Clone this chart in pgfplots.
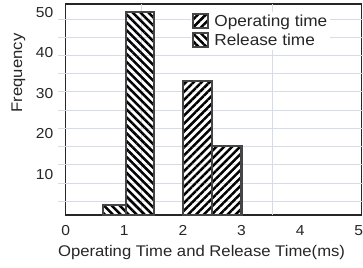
\documentclass[border=0pt]{standalone}
\usepackage{fontspec}
\setmainfont[FakeStretch=1.08]{Liberation Sans}
\usepackage{pgfplots}
\pgfplotsset{compat=1.18}
\usetikzlibrary{patterns.meta}
\definecolor{gridc}{HTML}{D5DCE6}
\definecolor{edge}{HTML}{454545}
\pgfplotsset{
  mybar/.style={ybar interval, draw=edge, line width=2.2bp,
    legend image code/.code={\draw[##1, draw=edge, line width=2bp] (0bp,-7bp) rectangle (15bp,7bp);}},
}
\begin{document}
\begin{tikzpicture}
\useasboundingbox (-65.7bp,-53bp) rectangle (297.3bp,215bp);
\begin{axis}[
  at={(0,0)}, anchor=south west,
  width=296bp, height=211bp, scale only axis,
  xmin=0, xmax=5.05, ymin=0, ymax=52,
  axis line style={draw=black!85, line width=1.1bp},
  xtick={0,1,2,3,4,5}, ytick={10,20,30,40,50},
  major tick length=0,
  /pgf/number format/assume math mode=true,
  tick label style={font=\fontsize{14.5}{17}\selectfont, text=black!85},
  x tick label style={yshift=-7bp},
  y tick label style={xshift=-9bp},
  extra y ticks={3.4,7.9,12.4,16.9,21.4,25.9,30.4,34.9,39.3,43.8,48.3},
  extra y tick labels={},
  extra y tick style={grid=major, major grid style={gridc, line width=0.8bp},
     tick style={gridc, line width=0.8bp}, major tick length=8bp, tick align=outside},
  extra x ticks={1.3,3.53},
  extra x tick labels={},
  extra x tick style={grid=major, major grid style={gridc, line width=0.8bp}, major tick length=0},
  xlabel={Operating Time and Release Time(ms)},
  ylabel={Frequency},
  label style={font=\fontsize{15.5}{18}\selectfont, text=black!85},
  xlabel style={at={(rel axis cs:0.459,0)}, anchor=north, yshift=-27bp},
  ylabel style={at={(rel axis cs:0,0.673)}, anchor=center, yshift=47.2bp},
  legend style={at={(rel axis cs:0.424,0.965)}, anchor=north west, draw=none, fill=white,
     inner sep=1bp, font=\fontsize{16}{18}\selectfont, row sep=2bp, text=black!85,
     /tikz/every odd column/.append style={column sep=3bp}},
  legend cell align=left,
]
\addplot[mybar, pattern={Lines[angle=45,distance=5.6bp,line width=2.5bp]}]
  coordinates {(2,33) (2.5,17) (3,0)};
\addplot[mybar, pattern={Lines[angle=-45,distance=5.6bp,line width=2.5bp]}]
  coordinates {(0.63,2.5) (1.03,50) (1.51,0)};
\legend{Operating time, Release time}
\end{axis}
\end{tikzpicture}
\end{document}
